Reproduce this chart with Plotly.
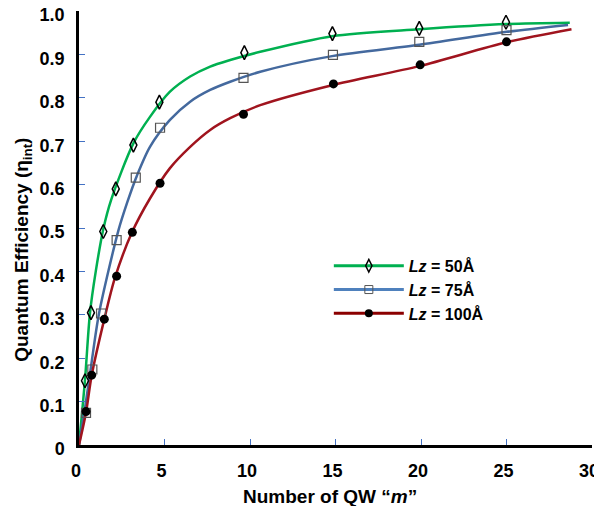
import plotly.graph_objects as go

# ---- data ----
# fitted curves
curve50_m = [0, 0.35, 0.64, 0.98, 1.43, 1.88, 3.18, 4.15, 5.32, 6.5, 7.67, 8.84, 10.6, 14.8, 19.9, 25.0, 28.7]
curve50_y = [0, 0.15, 0.303, 0.40, 0.499, 0.565, 0.695, 0.756, 0.814, 0.849, 0.872, 0.887, 0.906, 0.942, 0.958, 0.970, 0.973]

curve75_m = [0, 0.35, 0.7, 1.17, 2.31, 2.83, 3.38, 4.15, 5.32, 6.5, 7.67, 8.84, 10.6, 14.8, 19.9, 25.0, 28.6]
curve75_y = [0, 0.085, 0.18, 0.303, 0.495, 0.56, 0.62, 0.687, 0.749, 0.791, 0.818, 0.837, 0.860, 0.896, 0.922, 0.952, 0.968]

curve100_m = [0, 0.41, 0.74, 1.48, 2.1, 3.1, 4.15, 5.32, 6.5, 7.67, 8.84, 10.6, 14.8, 19.9, 25.0, 28.8]
curve100_y = [0, 0.075, 0.16, 0.29, 0.385, 0.49, 0.568, 0.638, 0.687, 0.726, 0.753, 0.783, 0.829, 0.873, 0.928, 0.958]

# measured points
pts50_m = [0.35, 0.70, 1.42, 2.15, 3.18, 4.70, 9.67, 14.82, 19.90, 24.97]
pts50_y = [0.148, 0.305, 0.492, 0.590, 0.691, 0.790, 0.904, 0.948, 0.960, 0.974]

pts75_m = [0.41, 0.78, 1.29, 2.20, 3.32, 4.74, 9.62, 14.85, 19.90, 25.00]
pts75_y = [0.074, 0.174, 0.303, 0.472, 0.616, 0.731, 0.846, 0.899, 0.929, 0.956]

pts100_m = [0.41, 0.74, 1.48, 2.20, 3.12, 4.74, 9.62, 14.88, 19.95, 25.00]
pts100_y = [0.077, 0.161, 0.290, 0.389, 0.490, 0.603, 0.762, 0.832, 0.876, 0.929]

legend_names = ["<i>Lz</i> = 50Å", "<i>Lz</i> = 75Å", "<i>Lz</i> = 100Å"]

y_tickvals = [0, 0.1, 0.2, 0.3, 0.4, 0.5, 0.6, 0.7, 0.8, 0.9, 1.0]
y_ticktext = ["0", "0.1", "0.2", "0.3", "0.4", "0.5", "0.6", "0.7", "0.8", "0.9", "1.0"]
x_tickvals = [0, 5, 10, 15, 20, 25, 30]
x_ticktext = ["0", "5", "10", "15", "20", "25", "30"]

# ---- styles ----
GREEN = "#00B050"
BLUE = "#44699E"
BLUE_LEG = "#4F81BD"
RED = "#A0141E"
RED_LEG = "#8B0000"
FONT = "Arial, Liberation Sans, sans-serif"

fig = go.Figure()

for m, y, c in [(curve50_m, curve50_y, GREEN), (curve75_m, curve75_y, BLUE), (curve100_m, curve100_y, RED)]:
    fig.add_trace(go.Scatter(x=m, y=y, mode="lines", line=dict(color=c, width=2.5, shape="spline", smoothing=0.8),
                             showlegend=False, hoverinfo="skip"))

fig.add_trace(go.Scatter(x=pts50_m, y=pts50_y, mode="markers", showlegend=False,
                         marker=dict(symbol="diamond-tall-open", size=10, color="black", line=dict(width=1.5, color="black"))))
fig.add_trace(go.Scatter(x=pts75_m, y=pts75_y, mode="markers", showlegend=False,
                         marker=dict(symbol="square-open", size=9, color="#555555", line=dict(width=1.2, color="#555555"))))
fig.add_trace(go.Scatter(x=pts100_m, y=pts100_y, mode="markers", showlegend=False,
                         marker=dict(symbol="circle", size=9, color="black")))

# legend-only entries
leg_styles = [
    (GREEN, dict(symbol="diamond-tall-open", size=9, color="black", line=dict(width=1.5, color="black"))),
    (BLUE_LEG, dict(symbol="square-open", size=8, color="#555555", line=dict(width=1, color="#555555"))),
    (RED_LEG, dict(symbol="circle", size=8, color="black")),
]
for name, (c, mk) in zip(legend_names, leg_styles):
    fig.add_trace(go.Scatter(x=[None], y=[None], mode="lines+markers", name=name,
                             line=dict(color=c, width=3), marker=mk))

# the page body adds an 8px offset, so the figure is smaller with shifted margins
fig.update_layout(
    width=594, height=498,
    margin=dict(l=71, r=10, t=3, b=61, autoexpand=False),
    plot_bgcolor="white", paper_bgcolor="white",
    font=dict(family=FONT, color="black"),
    showlegend=True,
    legend=dict(x=0.487, y=0.452, xanchor="left", yanchor="top",
                font=dict(size=16, family=FONT, color="black", weight="bold"),
                itemwidth=70, bgcolor="rgba(0,0,0,0)", tracegroupgap=0),
    xaxis=dict(range=[0, 30], tickvals=x_tickvals, ticktext=x_ticktext, automargin=False,
               showgrid=False, zeroline=False, showline=True, linecolor="black", linewidth=2.5,
               ticks="inside", ticklen=6, tickcolor="#4472C4", tickwidth=1,
               tickfont=dict(size=18, family=FONT, color="black", weight="bold"),
               ticklabelstandoff=8, ticklabelshift=-3, ticklabeloverflow="allow"),
    yaxis=dict(range=[0, 1.0], tickvals=y_tickvals, ticktext=y_ticktext, automargin=False,
               showgrid=False, zeroline=False, showline=True, linecolor="black", linewidth=2.5,
               ticks="inside", ticklen=6, tickcolor="#4472C4", tickwidth=1,
               tickfont=dict(size=18, family=FONT, color="black", weight="bold"),
               ticklabelstandoff=8, ticklabelshift=4, ticklabeloverflow="allow"),
    annotations=[
        dict(text="<b>Number of QW “<i>m</i>”</b>", xref="paper", yref="paper",
             x=0.49, y=-0.09, xanchor="center", yanchor="top", showarrow=False,
             font=dict(size=19, family=FONT, color="black")),
        dict(text="<b>Quantum Efficiency (η<sub>int</sub>)</b>", xref="paper", yref="paper",
             x=-0.109, y=0.45, xanchor="center", yanchor="middle", textangle=-90, showarrow=False,
             font=dict(size=19, family=FONT, color="black")),
    ],
)

fig.write_html("out.html")
